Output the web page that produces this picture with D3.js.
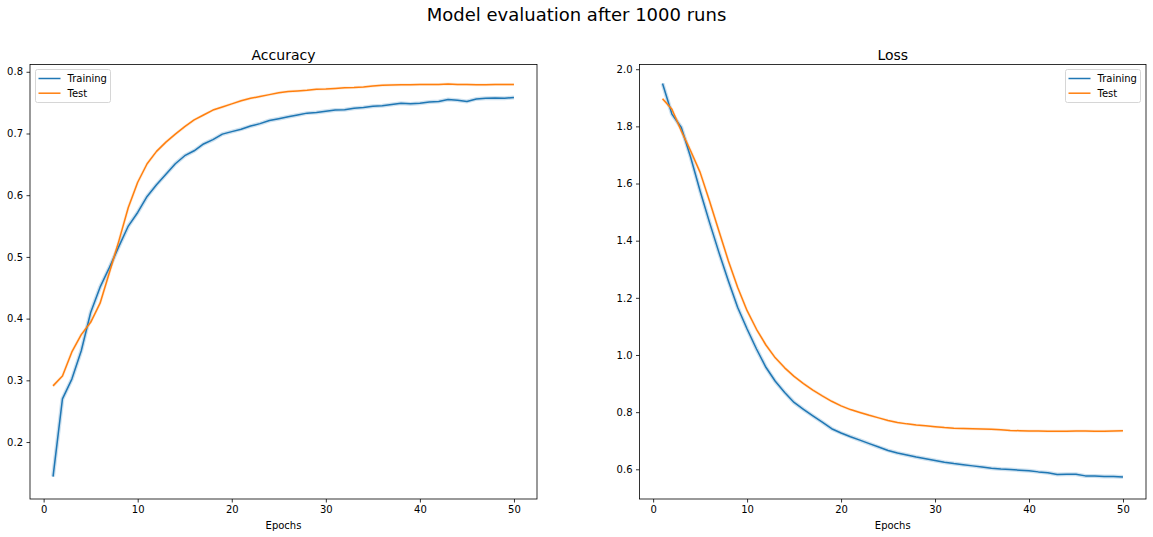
<!DOCTYPE html>
<html><head><meta charset="utf-8">
<script src="https://cdn.jsdelivr.net/npm/d3@7"></script>
<style>body{margin:0;background:#fff}svg{display:block}text{font-family:"DejaVu Sans",sans-serif}</style>
</head><body><svg id="c" width="1153" height="537"></svg>
<script>
const epochs = d3.range(1, 51);
const accTrain = [0.144,0.270,0.302,0.348,0.410,0.451,0.483,0.517,0.550,0.572,0.598,0.617,0.634,0.651,0.664,0.672,0.683,0.690,0.699,0.703,0.707,0.712,0.716,0.721,0.724,0.727,0.730,0.733,0.734,0.736,0.738,0.7385,0.741,0.742,0.744,0.745,0.747,0.749,0.748,0.749,0.751,0.752,0.755,0.754,0.752,0.756,0.757,0.7575,0.757,0.7585];
const accTest = [0.291,0.307,0.346,0.374,0.394,0.425,0.475,0.526,0.580,0.621,0.651,0.671,0.686,0.699,0.711,0.722,0.730,0.738,0.743,0.748,0.753,0.757,0.760,0.763,0.766,0.768,0.769,0.770,0.7715,0.772,0.773,0.774,0.7745,0.7755,0.777,0.778,0.7785,0.779,0.779,0.7795,0.7795,0.7795,0.780,0.7795,0.7795,0.779,0.779,0.7795,0.7795,0.7795];
const lossTrain = [1.950,1.843,1.796,1.691,1.574,1.464,1.359,1.260,1.166,1.091,1.021,0.957,0.908,0.869,0.834,0.810,0.787,0.765,0.742,0.727,0.714,0.702,0.690,0.678,0.666,0.657,0.650,0.643,0.637,0.631,0.625,0.620,0.616,0.612,0.608,0.604,0.601,0.599,0.597,0.595,0.591,0.588,0.582,0.583,0.583,0.577,0.577,0.575,0.575,0.573];
const lossTest = [1.897,1.860,1.784,1.714,1.639,1.539,1.434,1.330,1.236,1.155,1.090,1.035,0.990,0.955,0.925,0.900,0.877,0.857,0.838,0.822,0.809,0.799,0.789,0.780,0.771,0.764,0.759,0.755,0.752,0.749,0.746,0.744,0.743,0.742,0.741,0.740,0.738,0.736,0.735,0.734,0.734,0.733,0.733,0.733,0.734,0.734,0.733,0.733,0.734,0.735];
const xTicks = [0,10,20,30,40,50];
const accTicks = [0.2,0.3,0.4,0.5,0.6,0.7,0.8];
const lossTicks = [0.6,0.8,1.0,1.2,1.4,1.6,1.8,2.0];
const seriesNames = ["Training","Test"];
const colors = ["#1f77b4","#ff7f0e"];

const svg = d3.select("#c");
svg.append("text").attr("x",576.5).attr("y",21).attr("text-anchor","middle")
  .attr("font-size",18).text("Model evaluation after 1000 runs");

function panel(opts){
  const {left,right,top,bottom,title,ydom,yticks,yfmt,train,test,legendX} = opts;
  const x = d3.scaleLinear().domain([-1.45,52.45]).range([left,right]);
  const y = d3.scaleLinear().domain(ydom).range([bottom,top]);
  const g = svg.append("g");
  const line = d3.line().x((d,i)=>x(epochs[i])).y(d=>y(d));
  g.append("path").datum(train).attr("d",line).attr("fill","none").attr("stroke",colors[0]).attr("stroke-opacity",0.22).attr("stroke-width",4);
  g.append("path").datum(test).attr("d",line).attr("fill","none").attr("stroke",colors[1]).attr("stroke-opacity",0.15).attr("stroke-width",3);
  g.append("path").datum(train).attr("d",line).attr("fill","none").attr("stroke",colors[0]).attr("stroke-width",1.5).attr("stroke-linejoin","round");
  g.append("path").datum(test).attr("d",line).attr("fill","none").attr("stroke",colors[1]).attr("stroke-width",1.5).attr("stroke-linejoin","round");

  const xa = g.append("g").attr("transform",`translate(0,${bottom})`)
    .call(d3.axisBottom(x).tickValues(xTicks).tickSize(3.5).tickPadding(3.5).tickFormat(d3.format("d")));
  const ya = g.append("g").attr("transform",`translate(${left},0)`)
    .call(d3.axisLeft(y).tickValues(yticks).tickSize(3.5).tickPadding(3.5).tickFormat(yfmt));
  [xa,ya].forEach(a=>{
    a.select(".domain").remove();
    a.selectAll("line").attr("stroke","#000").attr("stroke-width",0.8);
    a.selectAll("text").attr("font-size",10).attr("fill","#000").style("font-family","'DejaVu Sans',sans-serif");
  });
  g.append("rect").attr("x",left).attr("y",top).attr("width",right-left).attr("height",bottom-top)
    .attr("fill","none").attr("stroke","#000").attr("stroke-width",0.8);
  g.append("text").attr("x",(left+right)/2).attr("y",top-5).attr("text-anchor","middle").attr("font-size",14).text(title);
  g.append("text").attr("x",(left+right)/2).attr("y",529).attr("text-anchor","middle").attr("font-size",10).text("Epochs");

  const lg = g.append("g").attr("transform",`translate(${legendX},69)`);
  lg.append("rect").attr("x",0.5).attr("y",0.5).attr("width",75).attr("height",33).attr("rx",2)
    .attr("fill","#fff").attr("fill-opacity",0.8).attr("stroke","#d6d6d6").attr("stroke-width",1);
  seriesNames.forEach((n,i)=>{
    const yy = 9.5 + i*14.7;
    lg.append("line").attr("x1",3.5).attr("x2",25.5).attr("y1",yy).attr("y2",yy).attr("stroke",colors[i]).attr("stroke-width",1.5);
    lg.append("text").attr("x",32.5).attr("y",yy+3.6).attr("font-size",10).attr("fill","#000").text(n);
  });
}

panel({left:30,right:537,top:64.5,bottom:499,title:"Accuracy",ydom:[0.1077,0.8118],yticks:accTicks,
  yfmt:d3.format(".1f"),train:accTrain,test:accTest,legendX:35});
panel({left:639.5,right:1146,top:64.5,bottom:499,title:"Loss",ydom:[0.4961,2.0165],yticks:lossTicks,
  yfmt:d3.format(".1f"),train:lossTrain,test:lossTest,legendX:1065});
</script></body></html>
